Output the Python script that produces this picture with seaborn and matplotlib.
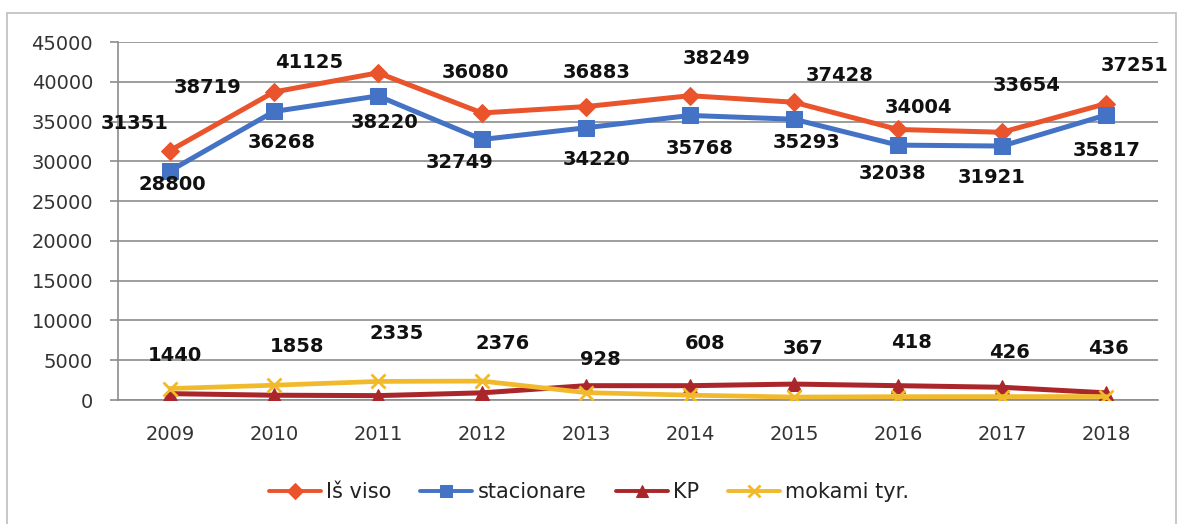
import matplotlib
matplotlib.use("Agg")
import matplotlib.pyplot as plt
import seaborn as sns
import numpy as np
from matplotlib.patches import Rectangle

years = ["2009", "2010", "2011", "2012", "2013", "2014", "2015", "2016", "2017", "2018"]
is_viso = [31351, 38719, 41125, 36080, 36883, 38249, 37428, 34004, 33654, 37251]
stacionare = [28800, 36268, 38220, 32749, 34220, 35768, 35293, 32038, 31921, 35817]
kp = [800, 600, 550, 900, 1800, 1800, 2000, 1800, 1600, 900]
mokami = [1440, 1858, 2335, 2376, 928, 608, 367, 418, 426, 436]
series_names = ["Iš viso", "stacionare", "KP", "mokami tyr."]

# label offsets in pixels (dx, dy up)
off_is = [(-35, 27), (-66, 4), (-69, 10), (-7, 40), (11, 34), (27, 37), (46, 27), (20, 22), (25, 47), (29, 38)]
off_st = [(2, -14), (8, -31), (7, -27), (-22, -23), (11, -32), (10, -33), (13, -23), (-5, -28), (-10, -31), (1, -35)]
off_mo = [(5, 33), (23, 39), (19, 48), (21, 38), (14, 33), (15, 52), (9, 49), (14, 54), (8, 44), (2, 48)]

sns.set_theme(style="white")
plt.rcParams['font.family'] = ['DejaVu Sans']

W, H, DPI = 1178, 524, 100
fig = plt.figure(figsize=(W / DPI, H / DPI), dpi=DPI)
fig.patch.set_facecolor("white")
fig.patches.append(Rectangle((7 / W, -0.05), (1176 - 7) / W, 1 - 13 / H + 0.05,
                             transform=fig.transFigure, fill=False,
                             edgecolor="#BDBDBD", linewidth=1.2))

ax = fig.add_axes([118 / W, 1 - 400 / H, (1158 - 118) / W, (400 - 42) / H])
x = np.arange(len(years))

c_is = "#E9542C"
c_st = "#4472C4"
c_kp = "#AA262B"
c_mo = "#F0BA2C"

sns.lineplot(x=x, y=is_viso, ax=ax, color=c_is, linewidth=3.6, marker="D",
             markersize=9, markeredgecolor=c_is, label=series_names[0], zorder=3)
sns.lineplot(x=x, y=stacionare, ax=ax, color=c_st, linewidth=3.6, marker="s",
             markersize=11, markeredgecolor=c_st, label=series_names[1], zorder=3)
sns.lineplot(x=x, y=kp, ax=ax, color=c_kp, linewidth=3.6, marker="^",
             markersize=10, markeredgecolor=c_kp, label=series_names[2], zorder=3)
sns.lineplot(x=x, y=mokami, ax=ax, color=c_mo, linewidth=3.4, marker="x",
             markersize=10, markeredgewidth=2, markeredgecolor=c_mo,
             label=series_names[3], zorder=3)

def label(vals, offs):
    for xi, v, (dx, dy) in zip(x, vals, offs):
        ax.annotate(str(v), (xi, v), xytext=(dx * 0.72, dy * 0.72),
                    textcoords="offset points", ha="center", va="center",
                    fontsize=14, fontweight="bold", color="#111111", zorder=5)

label(is_viso, off_is)
label(stacionare, off_st)
label(mokami, off_mo)

ax.set_xlim(-0.5, len(years) - 0.5)
ax.set_ylim(0, 45000)
ax.set_yticks(np.arange(0, 45001, 5000))
ax.set_yticklabels([str(v) for v in range(0, 45001, 5000)])
ax.set_xticks(x)
ax.set_xticklabels(years)
ax.set_xticks(np.arange(-0.5, len(years), 1), minor=True)
ax.tick_params(axis="x", which="major", length=0, labelsize=14, colors="#333333", pad=18)
ax.tick_params(axis="x", which="minor", length=6, color="#8C8C8C", width=1.2, direction="out")
ax.tick_params(axis="y", length=6, color="#8C8C8C", width=1.2, labelsize=14,
               labelcolor="#333333", pad=12, direction="out", left=True)
ax.grid(axis="y", color="#8C8C8C", linewidth=1.2)
ax.set_axisbelow(True)
for s in ["top", "right"]:
    ax.spines[s].set_visible(False)
for s in ["left", "bottom"]:
    ax.spines[s].set_color("#8C8C8C")
    ax.spines[s].set_linewidth(1.2)
ax.set_xlabel("")
ax.set_ylabel("")

handles, labels = ax.get_legend_handles_labels()
ax.get_legend().remove()
leg = fig.legend(handles, labels, loc="center", bbox_to_anchor=(0.5, 1 - 492 / H), ncol=4,
                 frameon=False, fontsize=15, handlelength=2.5, handletextpad=0.25,
                 columnspacing=1.4, labelcolor="#222222")
for h in leg.legend_handles:
    h.set_linewidth(2.8)
    h.set_markersize(8)

fig.savefig("out.png", dpi=DPI, facecolor="white")
